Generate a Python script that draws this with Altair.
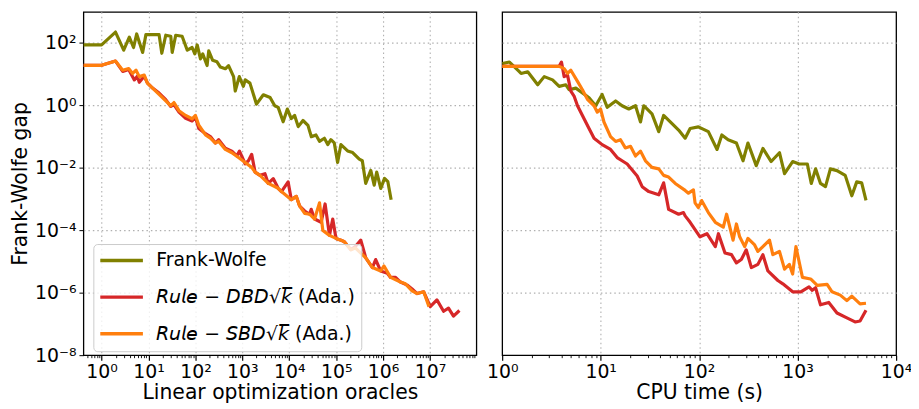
import json
import math
import altair as alt
import pandas as pd

# ---------------- data ----------------
NAMES = ["Frank-Wolfe", "𝘙𝘶𝘭𝘦 − 𝘋𝘉𝘋√𝘬̅ (Ada.)", "𝘙𝘶𝘭𝘦 − 𝘚𝘉𝘋√𝘬̅ (Ada.)"]
COLORS = ["#808000", "#d62728", "#ff7f0e"]

# Left panel: x = linear optimization oracles
fw_left_x = [0.41, 1.0, 1.98, 2.96, 3.9, 4.8, 5.6, 7.5, 8.8, 16.8, 19.2, 23.3, 29.8, 32, 38, 52, 67, 85, 97, 109,
             128, 143, 177, 192, 233, 288, 340, 433, 508, 650, 705, 860, 1050, 1150, 1450, 2000, 2800, 3900, 4900, 5800,
             7400, 9100, 11000, 13000, 15500, 19600, 25000, 29500, 37000, 44000, 56000, 66000, 77000, 91000, 107000,
             126000, 175000, 224000, 310000, 360000, 425000, 545000, 645000, 730000, 890000, 1070000, 1260000, 1480000]
fw_left_y = [87, 87, 225, 59, 154, 72, 196, 50, 186, 186, 47, 178, 165, 50, 178, 165, 59, 72, 45, 87,
             31, 45, 19, 56, 28, 25, 17, 15, 19, 8.4, 2.9, 8.4, 4.1, 6.6, 5.2, 1.1, 2.2, 1.8, 0.98, 0.87,
             0.30, 0.77, 0.38, 0.48, 0.21, 0.33, 0.23, 0.10, 0.114, 0.071, 0.089, 0.056, 0.080, 0.063, 0.015,
             0.056, 0.035, 0.031, 0.019, 0.017, 0.0032, 0.0083, 0.0028, 0.0073, 0.0022, 0.0046, 0.0036, 0.00096]

dbd_left_x = [0.41, 1.0, 1.98, 2.82, 3.78, 4.99, 5.77, 6.36, 8.11, 9.5, 12.2, 16.8, 23.3, 29.8, 34.9, 44.6, 61.8, 85,
              100, 118, 164, 208, 266, 313, 433, 597, 762, 868, 1146, 1346, 1581, 1866, 2378, 3034, 3563, 4545, 5800,
              6810, 9440, 11070, 14130, 16670, 21270, 27120, 29310, 34590, 47750, 58000, 71800, 84330, 99050, 126300,
              148900, 205500, 258300, 334300, 426600, 591300, 693400, 885100, 1227000, 1442000, 1837000, 2344000,
              3250000, 4140000, 5285000, 7325000, 10100000, 14000000, 19400000, 24700000, 31550000, 42230000]
dbd_left_y = [19.3, 19.3, 26.4, 12.3, 14.2, 6.6, 8.6, 5.5, 8.6, 5.2, 3.6, 2.5, 1.54, 0.93, 1.07, 0.61, 0.39, 0.318,
              0.42, 0.183, 0.125, 0.101, 0.0626, 0.080, 0.043, 0.0345, 0.0241, 0.0345, 0.0136, 0.0169, 0.0272, 0.0073,
              0.00576, 0.0065, 0.00318, 0.00455, 0.00222, 0.00174, 0.00356, 0.00096, 0.00122, 0.000594, 0.000416,
              0.000328, 0.00047, 0.00023, 0.000181, 0.0007, 6.9e-5, 0.00023, 5.5e-5, 4.85e-5, 4.3e-5, 2.4e-5, 3.1e-5,
              4.85e-5, 1.31e-5, 6.4e-6, 1.16e-5, 5.0e-6, 4.2e-6, 3.1e-6, 3.1e-6, 2.2e-6, 1.76e-6, 1.32e-6, 9.4e-7,
              1.07e-6, 3.6e-7, 5.9e-7, 2.55e-7, 3.2e-7, 1.78e-7, 2.7e-7]

sbd_left_x = [0.41, 1.0, 1.98, 2.82, 3.78, 4.59, 5.42, 6.36, 8.11, 9.5, 12.2, 16.8, 23.3, 29.8, 34.9, 44.6, 61.8, 85,
              100, 118, 164, 208, 266, 313, 433, 597, 827, 1146, 1581, 1866, 2378, 3563, 5800, 6810, 11070, 14130,
              16670, 21270, 27120, 34590, 44150, 51880, 71800, 99050, 126300, 148900, 205500, 258300, 426600, 591300,
              885100, 1044000, 1442000, 2344000, 2991000, 4140000, 5285000, 7325000, 9480000]
sbd_left_y = [19.3, 19.3, 26.4, 13.5, 15.2, 10.6, 13.5, 8.4, 9.4, 5.2, 3.6, 2.25, 1.40, 0.98, 1.24, 0.68, 0.48, 0.375,
              0.48, 0.234, 0.114, 0.0895, 0.0626, 0.0706, 0.039, 0.0306, 0.0214, 0.0149, 0.0104, 0.0073, 0.00576,
              0.00318, 0.00222, 0.00174, 0.00096, 0.00122, 0.000594, 0.00035, 0.000328, 0.00023, 0.00076, 9.9e-5,
              6.9e-5, 5.5e-5, 4.85e-5, 4.3e-5, 2.4e-5, 2.7e-5, 1.31e-5, 6.4e-6, 5.0e-6, 7.2e-6, 3.1e-6, 2.2e-6,
              1.93e-6, 1.15e-6, 9.4e-7, 1.07e-6, 3.6e-7]

# Right panel: x = CPU time (s)
fw_right_x = [1.0, 1.185, 1.441, 1.556, 1.818, 2.295, 2.674, 3.25, 3.79, 4.43, 4.78, 5.6, 6.53, 7.62, 8.9, 10.35,
              11.67, 14.2, 16.5, 19.3, 22.6, 25.4, 27.4, 33.2, 38.9, 43.6, 53.1, 61.9, 72.1, 81.0, 98.2, 124, 152,
              170, 197, 239, 279, 313, 380, 444, 539, 654, 736, 890, 1037, 1255, 1376, 1522, 1707, 1918, 2151, 2510,
              3043, 3550, 3982, 4471, 4946]
fw_right_y = [22, 24.6, 13.5, 10.6, 12.0, 4.6, 8.4, 6.6, 4.1, 4.6, 3.2, 3.6, 2.54, 1.77, 0.98, 2.25, 0.87, 1.40, 0.98,
              0.77, 0.98, 0.296, 0.98, 0.536, 0.145, 0.48, 0.262, 0.163, 0.0895, 0.183, 0.207, 0.145, 0.039, 0.114,
              0.080, 0.0626, 0.0169, 0.0626, 0.0118, 0.0419, 0.0160, 0.0306, 0.0065, 0.0160, 0.0133, 0.0133, 0.00318,
              0.0093, 0.00318, 0.0025, 0.0093, 0.0082, 0.00576, 0.00128, 0.00356, 0.00332, 0.00091]

dbd_right_x = [1.0, 3.79, 4.00, 4.26, 4.61, 4.98, 5.37, 5.82, 6.53, 7.62, 8.57, 10.35, 12.6, 14.7, 16.5, 18.6, 23.5,
               26.4, 30.8, 38.9, 43.6, 49.0, 61.9, 69.4, 72.1, 81.0, 102, 120, 146, 157, 183, 213, 239, 268, 301, 339,
               395, 444, 499, 630, 708, 890, 1077, 1305, 1408, 1522, 1707, 2071, 2510, 3162, 3832, 4304, 4946]
dbd_right_y = [17.9, 17.9, 24.6, 8.4, 9.4, 2.87, 2.0, 0.98, 0.48, 0.183, 0.0895, 0.0557, 0.039, 0.0214, 0.0169,
               0.0133, 0.0055, 0.0025, 0.00174, 0.00137, 0.00332, 0.00047, 0.000328, 0.00037, 0.00029, 0.000181,
               6.2e-5, 7.8e-5, 3.0e-5, 7.8e-5, 1.87e-5, 1.66e-5, 9.1e-6, 1.16e-5, 2.37e-5, 6.4e-6, 8.1e-6, 1.66e-5,
               5.0e-6, 2.47e-6, 1.93e-6, 1.07e-6, 1.07e-6, 1.53e-6, 1.2e-6, 1.45e-6, 4.1e-7, 4.9e-7, 2.25e-7, 1.57e-7,
               1.16e-7, 1.24e-7, 2.73e-7]

sbd_right_x = [1.0, 3.79, 4.26, 4.61, 4.98, 5.82, 6.53, 7.34, 8.57, 9.25, 9.97, 10.8, 12.6, 14.2, 15.9, 17.8, 20.1,
               22.6, 25.4, 28.5, 33.2, 38.9, 43.6, 49.0, 57.2, 72.1, 77.9, 87.5, 90.9, 98.2, 106, 124, 146, 176, 190,
               221, 239, 258, 290, 313, 366, 395, 444, 518, 560, 654, 736, 825, 890, 961, 1119, 1355, 1581, 1993,
               2235, 2710, 3162, 3550, 4304, 4946]
sbd_right_y = [17.9, 17.9, 15.2, 10.6, 13.5, 5.9, 3.2, 1.57, 0.98, 0.61, 0.77, 0.296, 0.101, 0.0706, 0.080, 0.0437,
               0.0494, 0.0241, 0.0345, 0.0169, 0.0104, 0.0093, 0.00576, 0.0051, 0.00318, 0.0019, 0.00155, 0.00197,
               0.00076, 0.00053, 0.0009, 0.00037, 0.000181, 0.000127, 0.000328, 4.85e-5, 0.00016, 6.2e-5, 3.0e-5,
               5.5e-5, 3.4e-5, 2.11e-5, 3.0e-5, 4.85e-5, 1.66e-5, 2.11e-5, 5.7e-6, 8.1e-6, 3.96e-6, 3.0e-5, 3.1e-6,
               2.77e-6, 1.72e-6, 1.85e-6, 1.07e-6, 8.4e-7, 5.6e-7, 7.8e-7, 4.4e-7, 4.6e-7]

# Ticks and tick labels
x_left_major = [1, 10, 100, 1000, 10000, 100000, 1000000, 10000000]
x_left_labels = ["10⁰", "10¹", "10²", "10³", "10⁴", "10⁵", "10⁶", "10⁷"]
x_right_major = [1, 10, 100, 1000, 10000]
x_right_labels = ["10⁰", "10¹", "10²", "10³", "10⁴"]
y_major = [1e-8, 1e-6, 1e-4, 1e-2, 1, 100]
y_labels = ["10⁻⁸", "10⁻⁶", "10⁻⁴", "10⁻²", "10⁰", "10²"]

X_LEFT_DOMAIN = [0.41, 9.7e7]
X_RIGHT_DOMAIN = [1, 1e4]
Y_DOMAIN = [1e-8, 1e3]

# ---------------- helpers ----------------
MAJOR = "abs(log(datum.value)/LN10 - round(log(datum.value)/LN10)) < 0.000001"


def inside(domain_):
    lo, hi = domain_
    return f"datum.value > {lo * 1.001} && datum.value < {hi / 1.001}"


def minor_ticks(lo, hi):
    out = []
    e = math.floor(math.log10(lo))
    while 10 ** e <= hi:
        for k in range(2, 10):
            v = k * 10 ** e
            if lo <= v <= hi:
                out.append(v)
        e += 1
    return out


def label_expr(values, labels):
    mapping = {str(round(math.log10(v))): lab for v, lab in zip(values, labels)}
    js = json.dumps(mapping, ensure_ascii=False)
    return f"({MAJOR}) ? ({js})['' + round(log(datum.value)/LN10)] : ''"


def frame(xs, ys, name):
    return pd.DataFrame({"x": xs, "y": ys, "series": name, "i": list(range(len(xs)))})


def x_axis(major, labels, title, domain_):
    return alt.Axis(
        values=sorted(major + minor_ticks(*domain_)),
        labelExpr=label_expr(major, labels),
        title=title,
        tickSize={"condition": {"test": MAJOR, "value": 5}, "value": 2.5},
        tickWidth={"condition": {"test": MAJOR, "value": 1.2}, "value": 0.9},
        gridOpacity={"condition": {"test": f"({MAJOR}) && {inside(domain_)}", "value": 1}, "value": 0},
        labelFlush=False,
        labelOverlap=False,
        labelPadding=2,
        titlePadding=2,
    )


legend_left = alt.Legend(
    title=None,
    orient="none",
    legendX=10,
    legendY=234,
    symbolType="M0,0H6",
    symbolSize=205,
    symbolStrokeWidth=3.5,
    symbolOffset=-9.5,
    labelOffset=47,
    labelFontSize=19,
    labelFont="DejaVu Sans",
    labelColor="black",
    labelLimit=0,
    rowPadding=17,
    padding=7,
    fillColor="rgba(255,255,255,0.8)",
    strokeColor="#cccccc",
    cornerRadius=4,
)


def panel(series, xaxis, xdomain, yaxis, legend, width):
    layers = []
    for (xs, ys), name in zip(series, NAMES):
        layers.append(
            alt.Chart(frame(xs, ys, name))
            .mark_line(strokeWidth=3.2, strokeJoin="round", clip=True)
            .encode(
                x=alt.X("x:Q", scale=alt.Scale(type="log", domain=xdomain, nice=False), axis=xaxis),
                y=alt.Y("y:Q", scale=alt.Scale(type="log", domain=Y_DOMAIN, nice=False), axis=yaxis),
                color=alt.Color("series:N", scale=alt.Scale(domain=NAMES, range=COLORS), legend=legend),
                order="i:Q",
            )
        )
    return alt.layer(*layers).properties(width=width, height=346)


Y_GRID = {"condition": {"test": inside(Y_DOMAIN), "value": 1}, "value": 0}

y_axis_left = alt.Axis(
    values=y_major,
    labelExpr=label_expr(y_major, y_labels),
    title="Frank-Wolfe gap",
    tickSize=4.5,
    labelPadding=3,
    titlePadding=4,
    gridOpacity=Y_GRID,
)
y_axis_right = alt.Axis(values=y_major, labels=False, ticks=False, title=None, gridOpacity=Y_GRID)

left = panel(
    [(fw_left_x, fw_left_y), (dbd_left_x, dbd_left_y), (sbd_left_x, sbd_left_y)],
    x_axis(x_left_major, x_left_labels, "Linear optimization oracles", X_LEFT_DOMAIN),
    X_LEFT_DOMAIN, y_axis_left, legend_left, 396,
)
right = panel(
    [(fw_right_x, fw_right_y), (dbd_right_x, dbd_right_y), (sbd_right_x, sbd_right_y)],
    x_axis(x_right_major, x_right_labels, "CPU time (s)", X_RIGHT_DOMAIN),
    X_RIGHT_DOMAIN, y_axis_right, None, 397,
)

chart = (
    alt.hconcat(left, right, spacing=26, bounds="flush")
    .resolve_scale(color="independent")
    .resolve_legend(color="independent")
    .properties(
        autosize=alt.AutoSizeParams(type="none"),
        padding={"left": 76, "top": 1, "right": 834, "bottom": 392},
    )
    .configure(font="DejaVu Sans")
    .configure_view(stroke="black", strokeWidth=1.3)
    .configure_axis(
        labelFont="DejaVu Sans",
        labelFontSize=19,
        labelColor="black",
        titleFont="DejaVu Sans",
        titleFontSize=20.5,
        titleFontWeight="normal",
        titleColor="black",
        tickColor="black",
        domain=False,
        gridColor="#b0b0b0",
        gridDash=[1.5, 3],
        gridWidth=1.1,
    )
)

chart.save("out.html", embed_options={"renderer": "svg", "actions": False})
